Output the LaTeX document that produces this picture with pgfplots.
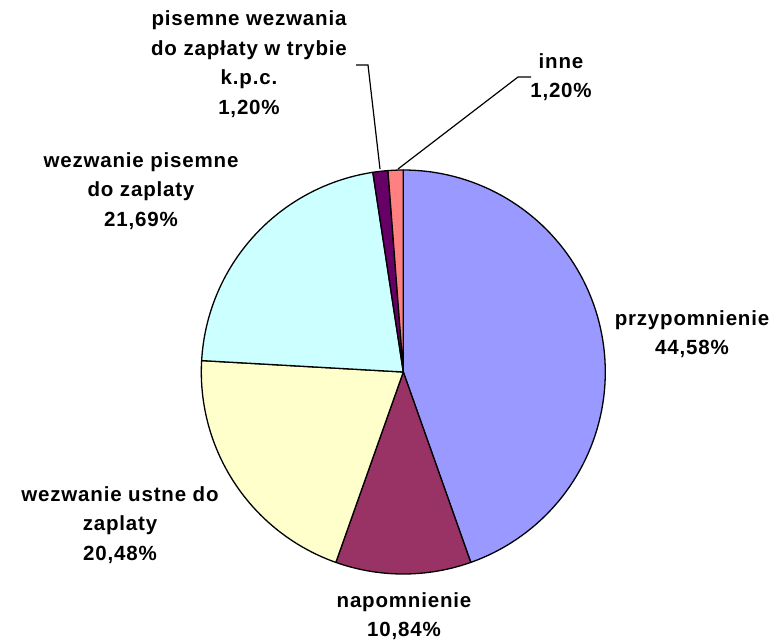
\documentclass[border=0pt]{standalone}
\usepackage{fontspec}
\setmainfont{Liberation Sans}[LetterSpace=4]
\usepackage{pgfplots}
\pgfplotsset{compat=1.18}
\definecolor{cA}{HTML}{9999FF}
\definecolor{cB}{HTML}{993366}
\definecolor{cC}{HTML}{FFFFCC}
\definecolor{cD}{HTML}{CCFFFF}
\definecolor{cE}{HTML}{660066}
\definecolor{cF}{HTML}{FF8080}
\tikzset{lab/.style={font=\fontsize{20.5}{29.5}\selectfont\bfseries, align=center, inner sep=0pt}}
% cumulative shares (percent): 44,58 / 10,84 / 20,48 / 21,69 / 1,20 / 1,20
\begin{document}
\begin{tikzpicture}
\useasboundingbox (0,0) rectangle (776pt,640pt);
\begin{axis}[
  at={(0,0)}, anchor=south west,
  scale only axis, width=776pt, height=640pt,
  xmin=0, xmax=776, ymin=0, ymax=640, y dir=reverse,
  hide axis, clip=false,
  every axis plot/.append style={draw=black, line width=1.3pt, line join=round},
]
\def\cx{403.3}\def\cy{372}\def\rr{202}
\addplot[fill=cA, domain=0:44.58, samples=90, variable=\t]
  ({\cx+\rr*sin(3.6*\t)},{\cy-\rr*cos(3.6*\t)}) -- (\cx,\cy) -- cycle;
\addplot[fill=cB, domain=44.58:55.42, samples=30, variable=\t]
  ({\cx+\rr*sin(3.6*\t)},{\cy-\rr*cos(3.6*\t)}) -- (\cx,\cy) -- cycle;
\addplot[fill=cC, domain=55.42:75.90, samples=50, variable=\t]
  ({\cx+\rr*sin(3.6*\t)},{\cy-\rr*cos(3.6*\t)}) -- (\cx,\cy) -- cycle;
\addplot[fill=cD, domain=75.90:97.59, samples=50, variable=\t]
  ({\cx+\rr*sin(3.6*\t)},{\cy-\rr*cos(3.6*\t)}) -- (\cx,\cy) -- cycle;
\addplot[fill=cE, domain=97.59:98.79, samples=6, variable=\t]
  ({\cx+\rr*sin(3.6*\t)},{\cy-\rr*cos(3.6*\t)}) -- (\cx,\cy) -- cycle;
\addplot[fill=cF, domain=98.79:100, samples=6, variable=\t]
  ({\cx+\rr*sin(3.6*\t)},{\cy-\rr*cos(3.6*\t)}) -- (\cx,\cy) -- cycle;
% leader lines
\draw[line width=1.2pt] (356,65) -- (368,65) -- (380,169);
\draw[line width=1.2pt] (531,77) -- (518,77) -- (398,169);
% labels
\node[lab] at (249,64) {pisemne wezwania\\do zapłaty w trybie\\k.p.c.\\1,20\%};
\node[lab] at (561,77) {inne\\1,20\%};
\node[lab] at (141,191) {wezwanie pisemne\\do zaplaty\\21,69\%};
\node[lab] at (692,334) {przypomnienie\\44,58\%};
\node[lab] at (120,525) {wezwanie ustne do\\zaplaty\\20,48\%};
\node[lab] at (404,616) {napomnienie\\10,84\%};
\end{axis}
\end{tikzpicture}
\end{document}
